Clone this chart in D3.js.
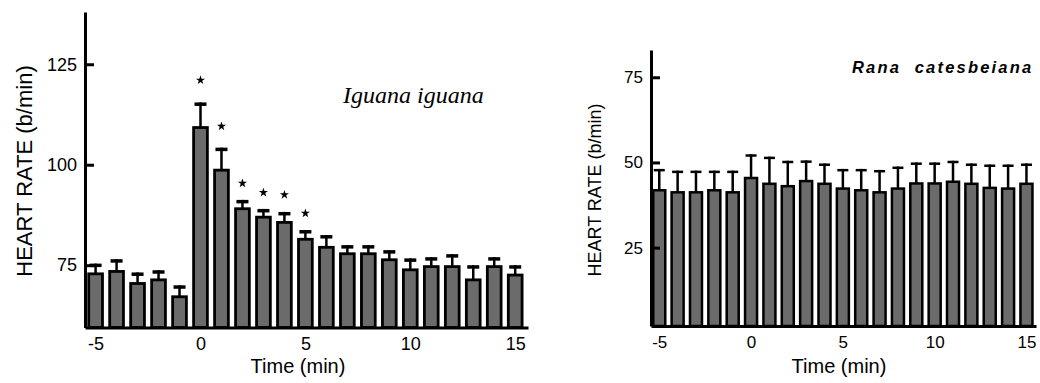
<!DOCTYPE html>
<html><head><meta charset="utf-8">
<script src="https://cdn.jsdelivr.net/npm/d3@7"></script>
<style>
body{margin:0;background:#fff}
svg{display:block}
text{font-family:"Liberation Sans",Arial,Helvetica,sans-serif;fill:#000}
</style>
</head><body>
<svg id="chart" width="1040" height="383"></svg>
<script>
// ---- data ----
const minutes = [-5,-4,-3,-2,-1,0,1,2,3,4,5,6,7,8,9,10,11,12,13,14,15];
const iguanaMean = [73.2,73.8,70.8,71.7,67.5,109.6,99.0,89.4,87.3,86.0,81.8,79.8,78.2,78.2,76.7,74.2,75.0,75.0,71.7,75.0,72.9];
const iguanaSE   = [2.2,2.7,2.4,2.05,2.5,5.9,5.25,1.85,1.7,2.25,1.95,2.7,1.8,1.8,2.05,2.5,2.0,2.75,3.3,2.0,2.1];
const iguanaSig  = [0,0,0,0,0,1,1,1,1,1,1,0,0,0,0,0,0,0,0,0,0];
const ranaMean   = [42.2,41.6,41.6,42.2,41.6,45.8,44.1,43.4,44.9,44.1,42.7,42.2,41.6,42.7,44.2,44.2,44.7,44.1,42.9,42.7,44.1];
const ranaSE     = [5.9,6.0,6.0,5.4,6.0,6.6,7.6,7.1,5.7,5.6,5.4,5.9,6.2,6.1,5.8,5.8,5.8,5.6,6.5,6.7,5.6];
const xTicks = [-5,0,5,10,15];
const iguanaYTicks = [75,100,125];
const ranaYTicks = [25,50,75];

const svg = d3.select("#chart");
svg.append("rect").attr("width",1040).attr("height",383).attr("fill","#fff");

function drawPanel(cfg){
  const x = d3.scaleLinear().domain(cfg.xDomain).range([cfg.left, cfg.right]);
  const y = d3.scaleLinear().domain(cfg.yDomain).range([cfg.bottom, cfg.top]);
  const g = svg.append("g");
  const pitch = x(1) - x(0);
  const outer = pitch * 0.79;
  const sw = cfg.barStroke;
  const rows = minutes.map((m,i)=>({m, v:cfg.mean[i], se:cfg.se[i], sig:cfg.sig ? cfg.sig[i] : 0}));

  // error bars (upper only)
  g.selectAll("line.eb").data(rows).join("line")
    .attr("x1", d=>x(d.m)).attr("x2", d=>x(d.m))
    .attr("y1", d=>y(d.v)+2).attr("y2", d=>y(d.v+d.se))
    .attr("stroke","#000").attr("stroke-width", cfg.ebStroke);
  g.selectAll("line.cap").data(rows).join("line")
    .attr("x1", d=>x(d.m)-cfg.capW/2).attr("x2", d=>x(d.m)+cfg.capW/2)
    .attr("y1", d=>y(d.v+d.se)+cfg.capStroke/2).attr("y2", d=>y(d.v+d.se)+cfg.capStroke/2)
    .attr("stroke","#000").attr("stroke-width", cfg.capStroke);

  // bars
  g.selectAll("rect.bar").data(rows).join("rect")
    .attr("x", d=>x(d.m) - outer/2 + sw/2)
    .attr("width", outer - sw)
    .attr("y", d=>y(d.v) + sw/2)
    .attr("height", d=>y(cfg.yDomain[0]) - y(d.v) - sw/2)
    .attr("fill","#6b6b6b").attr("stroke","#000").attr("stroke-width", sw);

  // significance stars
  g.selectAll("path.star").data(rows.filter(d=>d.sig)).join("path")
    .attr("d", d3.symbol(d3.symbolStar, 26))
    .attr("transform", d=>{
      const capY = y(d.v+d.se);
      const off = 14 + 0.35*(y(d.v)-capY);
      return `translate(${x(d.m)},${capY-off})`;
    })
    .attr("fill","#000");

  // axes
  const ya = g.append("g").attr("transform",`translate(${cfg.left},0)`)
    .call(d3.axisLeft(y).tickValues(cfg.yTicks).tickSizeInner(-9).tickSizeOuter(0).tickPadding(8).tickFormat(d=>String(d)));
  ya.select(".domain").attr("stroke-width",3);
  ya.selectAll(".tick line").attr("stroke-width",3);
  ya.selectAll("text").style("font-size", cfg.tickFont+"px").attr("font-family",null);

  const xa = g.append("g").attr("transform",`translate(0,${cfg.bottom})`)
    .call(d3.axisBottom(x).tickValues(xTicks).tickSize(0).tickPadding(10).tickFormat(d=>String(d)));
  xa.select(".domain").attr("stroke-width",3);
  xa.selectAll("text").style("font-size", cfg.tickFont+"px").attr("font-family",null);

  // axis titles
  g.append("text").attr("transform",`translate(${cfg.yTitleX},${cfg.yTitleY}) rotate(-90)`)
    .attr("text-anchor","middle").attr("dy","0.35em")
    .style("font-size", cfg.yTitleFont+"px").text("HEART RATE (b/min)");
  g.append("text").attr("x", cfg.xTitleX).attr("y", 373)
    .attr("text-anchor","middle").style("font-size","20px").text("Time (min)");
  return g;
}

const gL = drawPanel({
  xDomain:[-5.505,15.61], left:85, right:528,
  yDomain:[59.5,138], bottom:327.5, top:12,
  mean:iguanaMean, se:iguanaSE, sig:iguanaSig,
  barStroke:2.8, ebStroke:2.5, capW:12, capStroke:3.5,
  yTicks:iguanaYTicks, tickFont:18,
  yTitleX:24, yTitleY:171, yTitleFont:22, xTitleX:298
});
gL.append("text").attr("x",343).attr("y",103)
  .style("font-family","'Liberation Serif','Times New Roman',serif").style("font-style","italic")
  .style("font-size","24px").text("Iguana iguana");

const gR = drawPanel({
  xDomain:[-5.45,15.52], left:651, right:1036,
  yDomain:[2,83], bottom:326, top:50,
  mean:ranaMean, se:ranaSE, sig:null,
  barStroke:2.5, ebStroke:2.5, capW:11, capStroke:2.5,
  yTicks:ranaYTicks, tickFont:17,
  yTitleX:595, yTitleY:190, yTitleFont:18, xTitleX:839
});
gR.append("text").attr("x",852).attr("y",73)
  .style("font-style","italic").style("font-weight","bold")
  .style("font-size","16.5px").style("letter-spacing","2.2px").style("white-space","pre")
  .text("Rana  catesbeiana");
</script>
</body></html>
